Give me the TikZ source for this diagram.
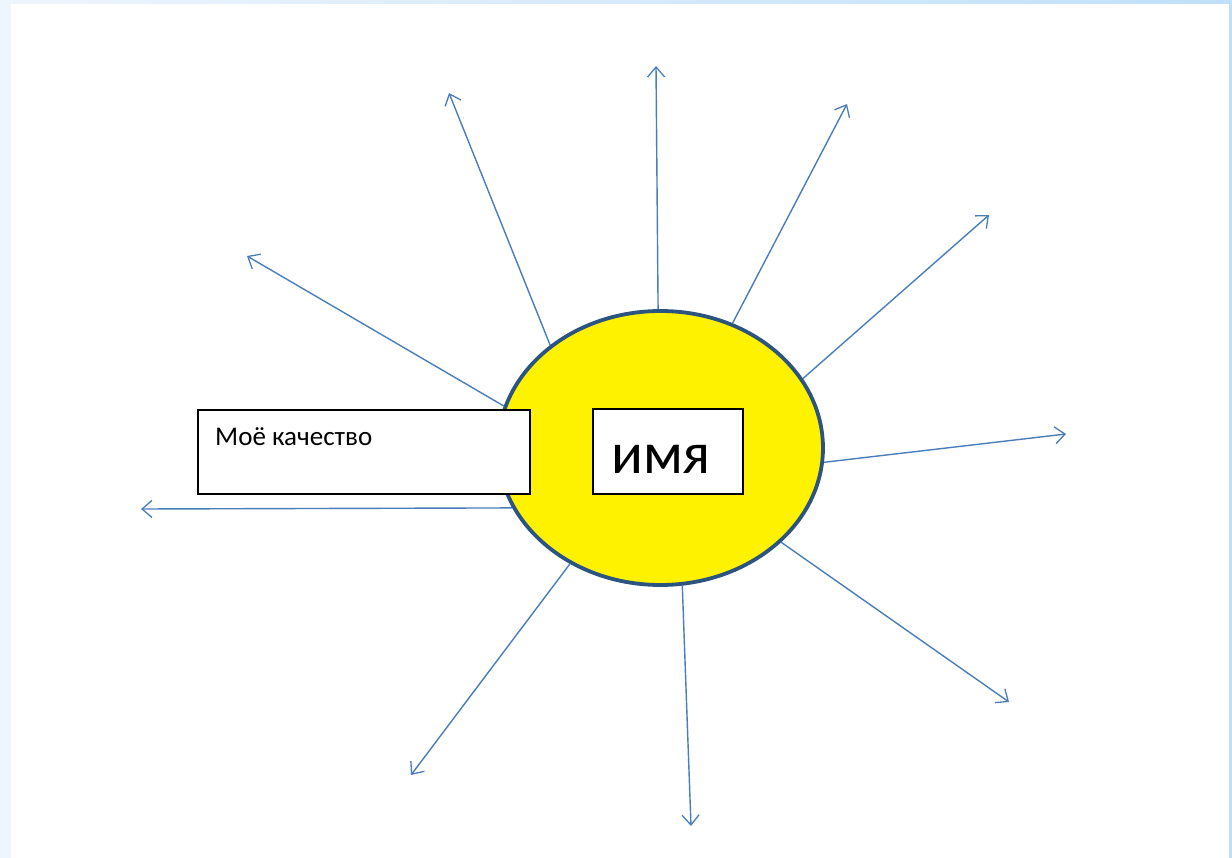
\documentclass[tikz,border=0pt]{standalone}
\usepackage{fontspec}
\setmainfont{Carlito}
\usetikzlibrary{shapes.geometric,arrows.meta}
\definecolor{rayblue}{HTML}{4A7EBB}
\definecolor{sunedge}{HTML}{2B5580}
\definecolor{edgeL}{HTML}{EEF5FC}
\definecolor{edgeR}{HTML}{BFE0FA}
\tikzset{
  ray/.style={draw=rayblue, line width=1.4pt, -{Straight Barb[length=10pt,width=17pt,line width=1.3pt]}},
  sunshape/.style={ellipse, draw=sunedge, line width=3.8pt, fill=yellow, minimum width=325pt, minimum height=274pt, inner sep=0pt},
  whitebox/.style={rectangle, draw=black, line width=1.4pt, fill=white, inner sep=0pt},
}
\begin{document}
\begin{tikzpicture}[x=1pt,y=-1pt]
\useasboundingbox (0,0) rectangle (1232,858);
\shade[left color=edgeL, right color=edgeR] (0,0) rectangle (1232,858);
\fill[white] (11,4) rectangle (1229,858);
\node[sunshape] (sun) at (660.5,448) {};
\coordinate (e1) at (656,66);
\coordinate (e2) at (449,93);
\coordinate (e3) at (247,256);
\coordinate (e4) at (141,509);
\coordinate (e5) at (411,775);
\coordinate (e6) at (691,826);
\coordinate (e7) at (1009,702);
\coordinate (e8) at (1066,434);
\coordinate (e9) at (989,215);
\coordinate (e10) at (847,104);
\draw[ray] (sun.91.8) -- (e1);
\draw[ray] (sun.137.7) -- (e2);
\draw[ray] (sun.165.3) -- (e3);
\draw[ray] (sun.202.7) -- (e4);
\draw[ray] (sun.232.8) -- (e5);
\draw[ray] (sun.279.5) -- (e6);
\draw[ray] (sun.322.5) -- (e7);
\draw[ray] (sun.355.5) -- (e8);
\draw[ray] (sun.26.5) -- (e9);
\draw[ray] (sun.60.6) -- (e10);
\node[whitebox, minimum width=332pt, minimum height=84pt] (quality) at (364,452) {};
\node[anchor=base west, inner sep=0pt, font=\fontsize{27}{30}\selectfont] (qtext) at (215,446) {Моё качество};
\node[whitebox, minimum width=150pt, minimum height=85pt] (namebox) at (668,451.5) {};
\node[anchor=base, inner sep=0pt, font=\fontsize{59}{64}\selectfont] (nametext) at (661,473) {имя};
\end{tikzpicture}
\end{document}
